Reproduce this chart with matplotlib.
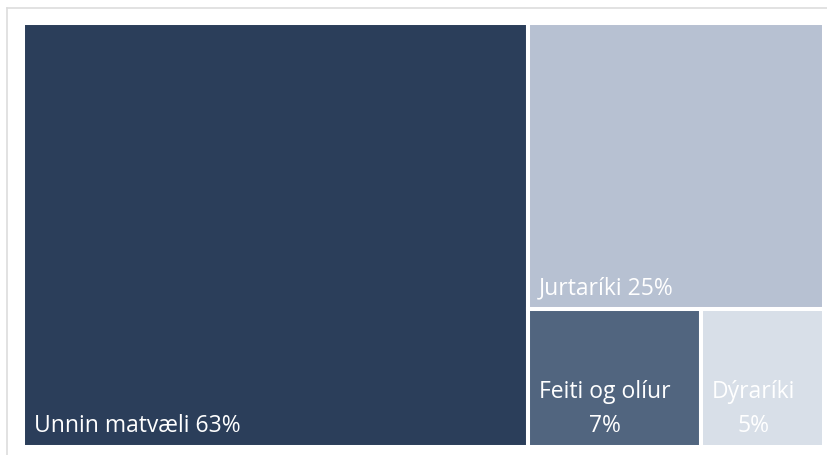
import matplotlib.pyplot as plt
from matplotlib.patches import Rectangle
from matplotlib.lines import Line2D

# Hlutfall matvæla eftir flokkum (%)
categories = ['Unnin matvæli', 'Jurtaríki', 'Feiti og olíur', 'Dýraríki']
values = [63, 25, 7, 5]
labels = ['Unnin matvæli 63%', 'Jurtaríki 25%', 'Feiti og olíur\n7%', 'Dýraríki\n5%']
colors = ['#2B3E5A', '#B7C1D2', '#51657F', '#D8DFE8']

plt.rcParams['font.family'] = ['Open Sans', 'DejaVu Sans']

W, H = 100.0, 100.0
total = sum(values)

# simple treemap: biggest takes a full-height column, the rest split the right column
w0 = W * values[0] / total
rest = total - values[0]
h1 = H * values[1] / rest
small = values[2] + values[3]
w2 = (W - w0) * values[2] / small
rects = [
    (0, 0, w0, H),
    (w0, H - h1, W - w0, h1),
    (w0, 0, w2, H - h1),
    (w0 + w2, 0, W - w0 - w2, H - h1),
]

fig = plt.figure(figsize=(8.27, 4.55), dpi=100)
ax = fig.add_axes([23 / 827, 8 / 455, 801 / 827, 424 / 455])
ax.set_xlim(0, W)
ax.set_ylim(0, H)
ax.axis('off')

for (x, y, w, h), c, lab in zip(rects, colors, labels):
    ax.add_patch(Rectangle((x, y), w, h, facecolor=c, edgecolor='white', linewidth=2.9))
    ax.annotate(lab, xy=(x, y), xytext=(11, 9), textcoords='offset pixels',
                ha='left', va='bottom', multialignment='center', linespacing=1.55,
                color='white', fontsize=16.5)

# thin frame lines at top and left of the visual
fig.add_artist(Line2D([7 / 827, 1], [1 - 8 / 455, 1 - 8 / 455], color='#DDDDDD', lw=1.2))
fig.add_artist(Line2D([7 / 827, 7 / 827], [0, 1 - 8 / 455], color='#DDDDDD', lw=1.2))

fig.savefig('out.png', dpi=100)
